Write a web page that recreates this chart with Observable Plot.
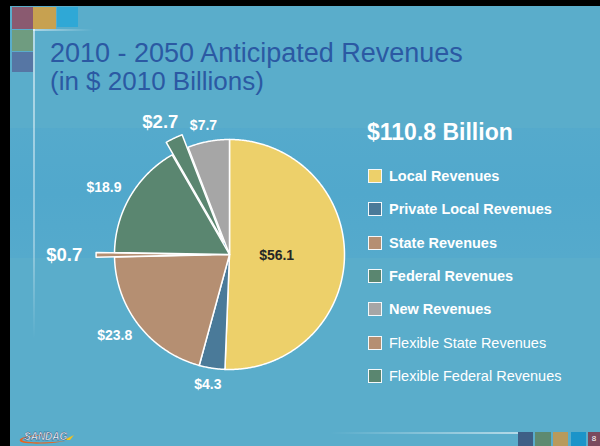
<!DOCTYPE html>
<html>
<head>
<meta charset="utf-8">
<script src="https://cdn.jsdelivr.net/npm/d3@7"></script>
<script src="https://cdn.jsdelivr.net/npm/@observablehq/plot@0.6"></script>
<style>
html, body { margin: 0; padding: 0; background: #000; }
body { width: 600px; height: 446px; overflow: hidden; font-family: "Liberation Sans", Arial, sans-serif; }
#slide { position: relative; width: 600px; height: 446px; background: #5AADCB; overflow: hidden; }
.abs { position: absolute; }
#band { left: 0; top: 128px; width: 600px; height: 130px; background: linear-gradient(#55aacc, #51a8cc 50%, #55aacc); }
#title1, #title2 { left: 50px; line-height: 27px; color: #2b59a3; white-space: nowrap; }
#title1 { top: 40px; font-size: 27px; }
#title2 { top: 68px; font-size: 26px; }
#total { left: 367px; top: 121px; font-size: 23px; line-height: 23px; font-weight: bold; color: #fff; white-space: nowrap; }
.leg { position: absolute; left: 368px; height: 14px; }
.sw { position: absolute; left: 0; top: 0; width: 14px; height: 14px; box-sizing: border-box; border: 1.5px solid #f4f8fa; }
.lt { position: absolute; left: 21px; top: 0; font-size: 14.5px; line-height: 14px; color: #fff; white-space: nowrap; }
#chart { position: absolute; left: 0; top: 0; }
</style>
</head>
<body>
<div id="slide">
  <div id="band" class="abs"></div>
  <!-- decorative corner tiles -->
  <div class="abs" style="left:12px;top:7px;width:21px;height:22px;background:#8a5a70;"></div>
  <div class="abs" style="left:33px;top:7px;width:23px;height:22px;background:#c7a150;"></div>
  <div class="abs" style="left:57px;top:7px;width:21px;height:20px;background:#2fa8d6;"></div>
  <div class="abs" style="left:12px;top:30px;width:21px;height:21px;background:#6f9c80;"></div>
  <div class="abs" style="left:12px;top:52px;width:21px;height:20px;background:#5676a4;"></div>
  <div class="abs" style="left:33px;top:29px;width:1.5px;height:310px;background:linear-gradient(rgba(255,255,255,0.55),rgba(255,255,255,0.35) 70%,rgba(255,255,255,0));"></div>
  <div class="abs" style="left:33px;top:29px;width:60px;height:1.5px;background:linear-gradient(to right,rgba(255,255,255,0.5),rgba(255,255,255,0));"></div>
  <div id="title1" class="abs">2010 - 2050 Anticipated Revenues</div>
  <div id="title2" class="abs">(in $ 2010 Billions)</div>
  <div id="total" class="abs"></div>
  <div id="legend"></div>
  <!-- footer -->
  <div class="abs" style="left:330px;top:432px;width:190px;height:2px;background:linear-gradient(to right,rgba(255,255,255,0),rgba(255,255,255,0.55));"></div>
  <div class="abs" style="left:518px;top:432px;width:15px;height:14px;background:#3e5f86;"></div>
  <div class="abs" style="left:535px;top:432px;width:16px;height:14px;background:#5e8a70;"></div>
  <div class="abs" style="left:553px;top:432px;width:15px;height:14px;background:#b89a5c;"></div>
  <div class="abs" style="left:571px;top:432px;width:15px;height:14px;background:#1b94c9;"></div>
  <div class="abs" style="left:588px;top:432px;width:12px;height:14px;background:#7a4a5e;color:#fff;font-size:8px;line-height:14px;text-align:center;">8</div>
  <svg class="abs" style="left:14px;top:428px;" width="66" height="18" viewBox="0 0 66 18">
    <path d="M6,13 C4,9 20,6 40,7 C30,7 10,8 8,12 C9,15 35,15 52,13 C38,16 9,17 6,13 Z" fill="#e8641e"/>
    <path d="M50,12 L60,7 L56,12 Z" fill="#f5c21b"/>
    <text x="10" y="12" font-size="10" font-weight="bold" font-style="italic" fill="#fff" stroke="#1c3f6e" stroke-width="0.4" font-family="Liberation Sans, Arial, sans-serif">SANDAG</text>
  </svg>
  <div id="chart"></div>
  <div class="abs" style="left:0;top:0;width:600px;height:6px;background:#000;"></div>
  <div class="abs" style="left:0;top:0;width:10px;height:446px;background:#000;"></div>
</div>
<script>
// ---- data ----
const legendCategories = ["Local Revenues", "Private Local Revenues", "State Revenues", "Federal Revenues", "New Revenues", "Flexible State Revenues", "Flexible Federal Revenues"];
const legendColors = ["#edd06a", "#4a7a99", "#b58f72", "#5a8670", "#a6a6a6", "#b58f72", "#5a8670"];
const legendBold = [true, true, true, true, true, false, false];

// slices, clockwise from 12 o'clock
const sliceCategories = ["Local Revenues", "Private Local Revenues", "State Revenues", "Flexible State Revenues", "Federal Revenues", "Flexible Federal Revenues", "New Revenues"];
const sliceSizes = [56.1, 4.0, 22.6, 0.7, 18.2, 2.7, 6.5];      // angular share as drawn ($ billions)
const sliceLabelValues = [56.1, 4.3, 23.8, 0.7, 18.9, 2.7, 7.7]; // data labels
const totalValue = 110.8;

// ---- layout / style ----
const R = 115, cx = 229, cy = 254;
const explode = {"Flexible State Revenues": 0.16, "Flexible Federal Revenues": 0.12};

document.getElementById("total").textContent = `$${totalValue} Billion`;

const legend = document.getElementById("legend");
legendCategories.forEach((c, i) => {
  const row = document.createElement("div");
  row.className = "leg";
  row.style.top = (169 + i * 33.3) + "px";
  const sw = document.createElement("div");
  sw.className = "sw";
  sw.style.background = legendColors[i];
  const t = document.createElement("div");
  t.className = "lt";
  t.style.fontWeight = legendBold[i] ? "bold" : "normal";
  t.textContent = c;
  row.appendChild(sw); row.appendChild(t);
  legend.appendChild(row);
});

const slices = sliceCategories.map((c, i) => ({category: c, size: sliceSizes[i], label: sliceLabelValues[i], key: i}));
const arcs = d3.pie().sort(null).value(d => d.size).startAngle(0).endAngle(2 * Math.PI)(slices);

const pts = [];
const labels = [];
const total = d3.sum(sliceSizes);
arcs.forEach(a => {
  const d = a.data;
  const off = explode[d.category] || 0;
  const mid = (a.startAngle + a.endAngle) / 2;
  const ox = off * Math.sin(mid), oy = off * Math.cos(mid);
  const n = Math.max(2, Math.ceil((a.endAngle - a.startAngle) / (Math.PI / 360)));
  pts.push({key: d.key, category: d.category, x: ox, y: oy});
  for (let k = 0; k <= n; k++) {
    const t = a.startAngle + (a.endAngle - a.startAngle) * k / n;
    pts.push({key: d.key, category: d.category, x: ox + Math.sin(t), y: oy + Math.cos(t)});
  }
  pts.push({key: d.key, category: d.category, x: ox, y: oy});

  const inside = d.size / total > 0.3;
  const fs = off > 0 ? 18.5 : 14;
  const text = `$${d.label}`;
  let lx, ly;
  if (inside) {
    lx = 0.41 * Math.sin(mid); ly = 0.41 * Math.cos(mid);
  } else {
    const rl = 1.1 + off;
    const hw = (text.length * 0.55 * fs) / 2 / R;
    const hh = (0.72 * fs) / 2 / R;
    lx = rl * Math.sin(mid) + hw * Math.sin(mid);
    ly = rl * Math.cos(mid) + hh * Math.cos(mid);
  }
  labels.push({x: lx, y: ly, text, fs, color: inside ? "#262626" : "#ffffff"});
});

const plot = Plot.plot({
  width: 600,
  height: 446,
  margin: 0,
  x: {domain: [-cx / R, (600 - cx) / R], axis: null},
  y: {domain: [(cy - 446) / R, cy / R], axis: null},
  color: {domain: legendCategories, range: legendColors},
  style: {background: "transparent", overflow: "visible"},
  marks: [
    Plot.line(pts, {x: "x", y: "y", z: "key", fill: "category", stroke: "#ffffff", strokeWidth: 1.5, strokeLinejoin: "round", curve: "linear"}),
    Plot.text(labels, {x: "x", y: "y", text: "text", fill: "color", fontSize: d => d.fs, fontWeight: "bold", fontFamily: "Liberation Sans, Arial, sans-serif", textAnchor: "middle", lineAnchor: "middle"})
  ]
});
document.getElementById("chart").appendChild(plot);
</script>
</body>
</html>
